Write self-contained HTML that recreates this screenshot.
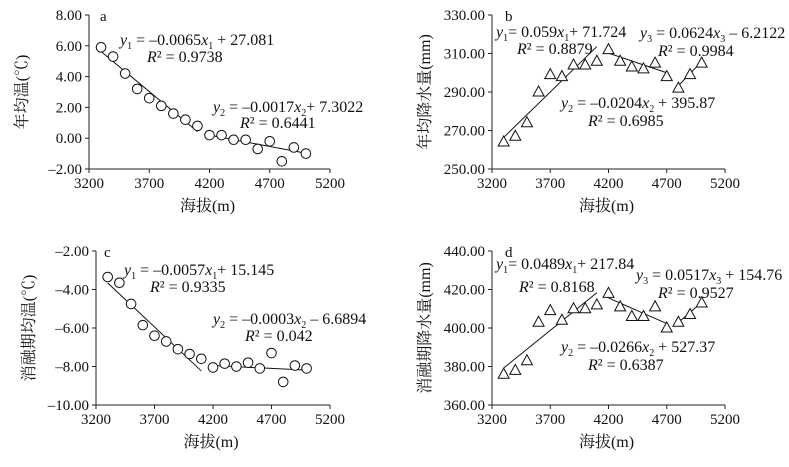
<!DOCTYPE html>
<html><head><meta charset="utf-8"><style>
body{margin:0;background:#fff;width:789px;height:462px;overflow:hidden}
svg text{font-family:"Liberation Serif","Noto Serif CJK SC",serif;fill:#111}
.cjk{font-family:"Liberation Serif","Noto Serif CJK SC",serif}
</style></head><body>
<svg id="s" width="789" height="462" xmlns="http://www.w3.org/2000/svg"></svg>
<script>
const S=document.getElementById('s');let h='';
const P=[
{x0:89,x1:330,yt:15,yb:169,vmin:-2,vmax:8,step:2,dec:2,m:'c',lab:'a',lx:100,ylab:'年均温(℃)',
 d:[5.9,5.3,4.2,3.2,2.6,2.1,1.6,1.2,0.8,0.2,0.2,-0.1,-0.1,-0.7,-0.2,-1.5,-0.6,-1.0],
 L:[[3300,5.63,4100,0.43],[4200,0.2,5000,-0.98]],
 T:[[120,45,'<tspan font-style="italic">y</tspan><tspan font-size="10" dy="4">1</tspan><tspan dy="-4"> = –0.0065</tspan><tspan font-style="italic">x</tspan><tspan font-size="10" dy="4">1</tspan><tspan dy="-4"> + 27.081</tspan>'],[147,62,'<tspan font-style="italic">R</tspan>² = 0.9738'],
    [213,112,'<tspan font-style="italic">y</tspan><tspan font-size="10" dy="4">2</tspan><tspan dy="-4"> = –0.0017</tspan><tspan font-style="italic">x</tspan><tspan font-size="10" dy="4">2</tspan><tspan dy="-4">+ 7.3022</tspan>'],[240,128,'<tspan font-style="italic">R</tspan>² = 0.6441']]},
{x0:492,x1:725,yt:15,yb:169,vmin:250,vmax:330,step:20,dec:2,m:'t',lab:'b',lx:505,ylab:'年均降水量(mm)',
 d:[264,267,274,290,299,298,304,304,306,312,306,303,302,305,298,292,299,305],
 L:[[3300,266.4,4100,313.6],[4200,310.2,4700,300],[4800,293.3,5000,305.8]],
 T:[[496,37,'<tspan font-style="italic">y</tspan><tspan font-size="10" dy="4">1</tspan><tspan dy="-4">= 0.059</tspan><tspan font-style="italic">x</tspan><tspan font-size="10" dy="4">1</tspan><tspan dy="-4">+ 71.724</tspan>'],[517,54,'<tspan font-style="italic">R</tspan>² = 0.8879'],
    [640,38,'<tspan font-style="italic">y</tspan><tspan font-size="10" dy="4">3</tspan><tspan dy="-4"> = 0.0624</tspan><tspan font-style="italic">x</tspan><tspan font-size="10" dy="4">3</tspan><tspan dy="-4"> – 6.2122</tspan>'],[658,56,'<tspan font-style="italic">R</tspan>² = 0.9984'],
    [561,108,'<tspan font-style="italic">y</tspan><tspan font-size="10" dy="4">2</tspan><tspan dy="-4"> = –0.0204</tspan><tspan font-style="italic">x</tspan><tspan font-size="10" dy="4">2</tspan><tspan dy="-4"> + 395.87</tspan>'],[588,126,'<tspan font-style="italic">R</tspan>² = 0.6985']]},
{x0:96,x1:330,yt:251,yb:405,vmin:-10,vmax:-2,step:2,dec:2,m:'c',lab:'c',lx:104,ylab:'消融期均温(℃)',
 d:[-3.35,-3.65,-4.75,-5.85,-6.4,-6.7,-7.1,-7.35,-7.6,-8.05,-7.85,-8.0,-7.8,-8.1,-7.3,-8.8,-7.95,-8.1],
 L:[[3300,-3.66,4100,-8.23],[4200,-7.95,5000,-8.19]],
 T:[[124,275,'<tspan font-style="italic">y</tspan><tspan font-size="10" dy="4">1</tspan><tspan dy="-4"> = –0.0057</tspan><tspan font-style="italic">x</tspan><tspan font-size="10" dy="4">1</tspan><tspan dy="-4">+ 15.145</tspan>'],[150,292,'<tspan font-style="italic">R</tspan>² = 0.9335'],
    [213,324,'<tspan font-style="italic">y</tspan><tspan font-size="10" dy="4">2</tspan><tspan dy="-4"> = –0.0003</tspan><tspan font-style="italic">x</tspan><tspan font-size="10" dy="4">2</tspan><tspan dy="-4"> – 6.6894</tspan>'],[245,341,'<tspan font-style="italic">R</tspan>² = 0.042']]},
{x0:492,x1:725,yt:251,yb:405,vmin:360,vmax:440,step:20,dec:2,m:'t',lab:'d',lx:505,ylab:'消融期降水量(mm)',
 d:[376,378,383,403,409,404,410,410,412,418,411,406,406,411,400,403,407,413],
 L:[[3300,379.2,4100,418.3],[4200,415.6,4700,402.3],[4800,402.9,5000,413.3]],
 T:[[496,269,'<tspan font-style="italic">y</tspan><tspan font-size="10" dy="4">1</tspan><tspan dy="-4">= 0.0489</tspan><tspan font-style="italic">x</tspan><tspan font-size="10" dy="4">1</tspan><tspan dy="-4">+ 217.84</tspan>'],[519,292,'<tspan font-style="italic">R</tspan>² = 0.8168'],
    [636,280,'<tspan font-style="italic">y</tspan><tspan font-size="10" dy="4">3</tspan><tspan dy="-4"> = 0.0517</tspan><tspan font-style="italic">x</tspan><tspan font-size="10" dy="4">3</tspan><tspan dy="-4"> + 154.76</tspan>'],[658,298,'<tspan font-style="italic">R</tspan>² = 0.9527'],
    [561,352,'<tspan font-style="italic">y</tspan><tspan font-size="10" dy="4">2</tspan><tspan dy="-4"> = –0.0266</tspan><tspan font-style="italic">x</tspan><tspan font-size="10" dy="4">2</tspan><tspan dy="-4"> + 527.37</tspan>'],[588,370,'<tspan font-style="italic">R</tspan>² = 0.6387']]}
];
for(const p of P){
 const X=v=>p.x0+(v-3200)/2000*(p.x1-p.x0);
 const Y=v=>p.yb-(v-p.vmin)/(p.vmax-p.vmin)*(p.yb-p.yt);
 h+=`<path d="M${p.x0},${p.yt}V${p.yb}H${p.x1}" stroke="#222" fill="none" stroke-width="1"/>`;
 for(let v=p.vmin;v<=p.vmax+1e-9;v+=p.step){const y=Y(v);
  h+=`<line x1="${p.x0-4}" x2="${p.x0}" y1="${y}" y2="${y}" stroke="#222"/>`;
  const s=(v<0?'–':'')+Math.abs(v).toFixed(2);
  h+=`<text x="${p.x0-7}" y="${y+5}" font-size="15" text-anchor="end">${s}</text>`;}
 for(let v=3200;v<=5200;v+=500){const x=X(v);
  h+=`<line x1="${x}" x2="${x}" y1="${p.yb}" y2="${p.yb+4}" stroke="#222"/>`;
  h+=`<text x="${x}" y="${p.yb+19}" font-size="15" text-anchor="middle">${v}</text>`;}
 const cx=(p.x0+p.x1)/2-2;
 h+=`<text class="cjk" x="${cx}" y="${p.yb+42}" font-size="16" text-anchor="middle">海拔(m)</text>`;
 const yc=(p.yt+p.yb)/2, lx=p.x0-62;
 h+=`<text class="cjk" transform="translate(${lx},${yc}) rotate(-90)" font-size="16" text-anchor="middle">${p.ylab}</text>`;
 h+=`<text x="${p.lx}" y="${p.yt+6}" font-size="15">${p.lab}</text>`;
 for(const l of p.L)h+=`<line x1="${X(l[0])}" y1="${Y(l[1])}" x2="${X(l[2])}" y2="${Y(l[3])}" stroke="#111" stroke-width="1"/>`;
 p.d.forEach((v,i)=>{const x=X(3300+i*100),y=Y(v);
  if(p.m=='c')h+=`<circle cx="${x}" cy="${y}" r="4.8" fill="#fff" stroke="#111" stroke-width="1"/>`;
  else h+=`<polygon points="${x},${y-6} ${x-5.5},${y+4} ${x+5.5},${y+4}" fill="#fff" stroke="#111" stroke-width="1"/>`;});
 for(const t of p.T)h+=`<text x="${t[0]}" y="${t[1]}" font-size="16">${t[2]}</text>`;
}
S.innerHTML=h;
</script>
</body></html>
